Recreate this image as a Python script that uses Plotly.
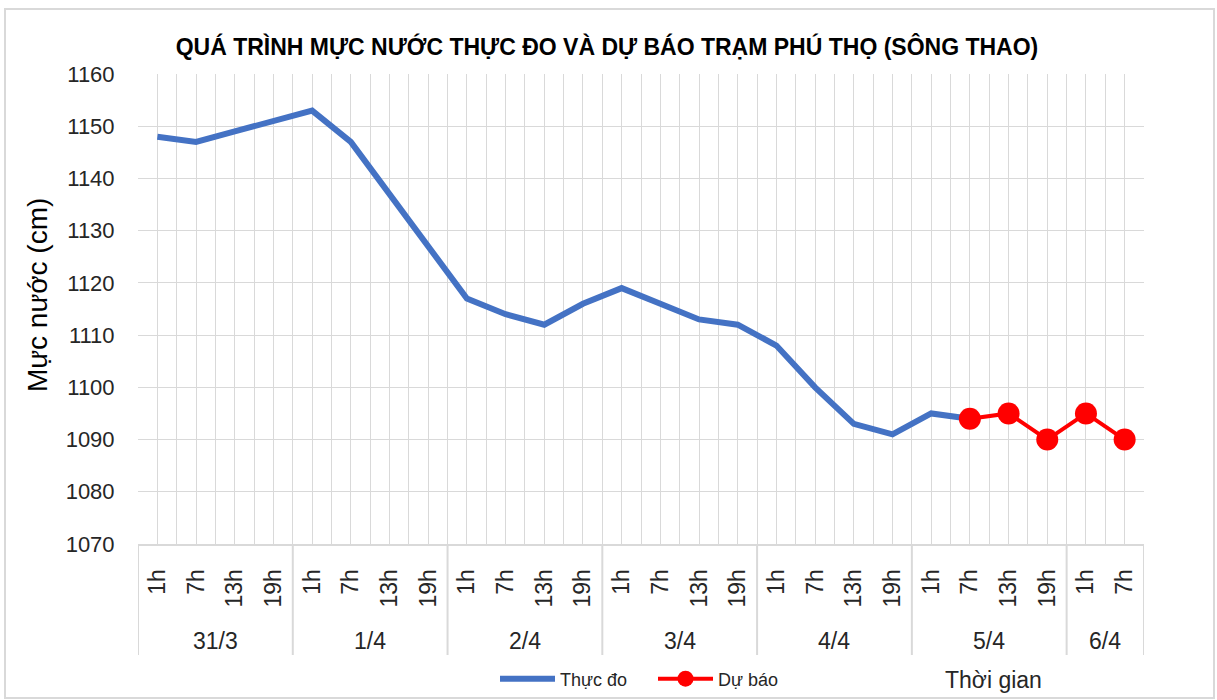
import plotly.graph_objects as go

# ---- data ----
days = ["31/3", "1/4", "2/4", "3/4", "4/4", "5/4", "6/4"]
day_hours = [
    ["1h", "7h", "13h", "19h"],
    ["1h", "7h", "13h", "19h"],
    ["1h", "7h", "13h", "19h"],
    ["1h", "7h", "13h", "19h"],
    ["1h", "7h", "13h", "19h"],
    ["1h", "7h", "13h", "19h"],
    ["1h", "7h"],
]
observed = [1148, 1147, 1149, 1151, 1153, 1147, 1137, 1127, 1117, 1114, 1112,
            1116, 1119, 1116, 1113, 1112, 1108, 1100, 1093, 1091, 1095, 1094]
forecast = [1094, 1095, 1090, 1095, 1090]
forecast_start = 21  # index of 5/4 7h

hour_labels = [h for hs in day_hours for h in hs]
n_cat = len(hour_labels)

FONT = "Liberation Sans, Arial, sans-serif"
GRID = "#D9D9D9"

fig = go.Figure()
fig.add_trace(go.Scatter(
    x=list(range(len(observed))), y=observed, mode="lines", name="Thực đo",
    line=dict(color="#4472C4", width=6),
))
fig.add_trace(go.Scatter(
    x=list(range(forecast_start, forecast_start + len(forecast))), y=forecast,
    mode="lines+markers", name="Dự báo",
    line=dict(color="#FF0000", width=4),
    marker=dict(color="#FF0000", size=22),
))

# paper geometry helpers
L, R, T, B = 138, 73, 74, 156
W, H = 1217, 700
pw, ph = W - L - R, H - T - B


def py(ypix):
    return (H - B - ypix) / ph


def px(xpix):
    return (xpix - L) / pw


shapes = []
annotations = []
start = 0
bounds = [-0.5]
for d, hs in zip(days, day_hours):
    n = len(hs)
    annotations.append(dict(
        x=start + (n - 1) / 2, y=py(641), xref="x", yref="paper",
        text=d, showarrow=False, font=dict(family=FONT, size=23, color="#262626"),
        xanchor="center", yanchor="middle"))
    start += n
    bounds.append(start - 0.5)
for b in bounds:
    shapes.append(dict(type="line", xref="x", yref="paper", x0=b, x1=b,
                       y0=0, y1=py(655), line=dict(color=GRID, width=2)))

# outer chart border
shapes.append(dict(type="rect", xref="paper", yref="paper",
                   x0=px(5), x1=px(1214), y0=py(9), y1=py(698),
                   line=dict(color=GRID, width=2)))

annotations.append(dict(
    x=px(993), y=py(680), xref="paper", yref="paper", text="Thời gian",
    showarrow=False, font=dict(family=FONT, size=23, color="#262626"),
    xanchor="center", yanchor="middle"))

# y-axis title
annotations.append(dict(
    x=px(37), y=py(295), xref="paper", yref="paper", text="Mực nước (cm)",
    textangle=-90, showarrow=False, font=dict(family=FONT, size=28, color="#000000"),
    xanchor="center", yanchor="middle"))

fig.update_layout(
    width=W, height=H,
    margin=dict(l=L, r=R, t=T, b=B, autoexpand=False),
    paper_bgcolor="white", plot_bgcolor="white",
    title=dict(text="<b>QUÁ TRÌNH MỰC NƯỚC THỰC ĐO VÀ DỰ BÁO TRẠM PHÚ THỌ (SÔNG THAO)</b>",
               xref="container", yref="container",
               x=607 / W, xanchor="center", y=1 - 47 / H, yanchor="middle",
               font=dict(family=FONT, size=23, color="#000000")),
    showlegend=True,
    legend=dict(orientation="h", xref="container", yref="container",
                x=495 / W, xanchor="left", y=1 - 679 / H, yanchor="middle",
                font=dict(family=FONT, size=18, color="#262626"),
                bgcolor="rgba(0,0,0,0)", itemwidth=55,
                entrywidth=88, entrywidthmode="pixels"),
    shapes=shapes, annotations=annotations,
    font=dict(family=FONT, color="#262626"),
)

fig.update_xaxes(
    range=[-0.5, n_cat - 0.5], automargin=False,
    tickmode="array", tickvals=list(range(n_cat)), ticktext=hour_labels,
    tickangle=-90, ticks="", ticklabelstandoff=14,
    tickfont=dict(family=FONT, size=23, color="#262626"),
    showgrid=True, gridcolor=GRID, gridwidth=1,
    minor=dict(tickmode="array", tickvals=[i + 0.5 for i in range(-1, n_cat)],
               showgrid=True, gridcolor=GRID, gridwidth=1),
    showline=True, linecolor=GRID, linewidth=2, zeroline=False, mirror=False,
)
fig.update_yaxes(
    range=[1070, 1160], dtick=10, tick0=1070, automargin=False,
    tickfont=dict(family=FONT, size=22, color="#262626"),
    showgrid=True, gridcolor=GRID, gridwidth=1, zeroline=False,
    ticks="outside", ticklen=0, ticklabelstandoff=18,
)

fig.write_html("out.html", config={"displayModeBar": False},
               post_script="document.body.style.margin='0px';")
